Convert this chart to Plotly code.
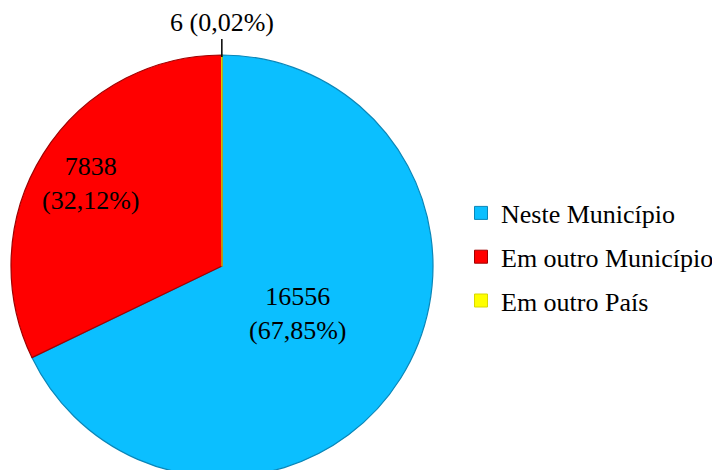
import math
import plotly.graph_objects as go

labels = ["Neste Município", "Em outro Município", "Em outro País"]
values = [16556, 7838, 6]
pct_text = ["67,85%", "32,12%", "0,02%"]
colors = ["#0BBFFF", "#FF0000", "#FFFF00"]
edge_colors = ["#0A86B8", "#A00000", "#D8D800"]

FONT = "Liberation Serif"
W, H = 720, 470
cx, cy, r = 214, 258, 211  # pie geometry in figure pixels

fig = go.Figure()
fig.add_trace(go.Pie(
    labels=labels,
    values=values,
    textinfo="none",
    sort=False,
    direction="clockwise",
    rotation=0,
    showlegend=False,
    marker=dict(colors=colors, line=dict(color=edge_colors, width=1.2)),
    domain=dict(x=[(cx - r) / W, (cx + r) / W], y=[(H - cy - r) / H, (H - cy + r) / H]),
    hoverinfo="label+value+percent",
))

# legend entries
for lab, col, ec in zip(labels, colors, edge_colors):
    fig.add_trace(go.Scatter(
        x=[None], y=[None], mode="markers", name=lab, legendgroup=lab,
        marker=dict(symbol="square", size=13, color=col, line=dict(color=ec, width=1)),
        hoverinfo="skip",
    ))

# data labels positioned along slice bisectors (computed from values)
total = sum(values)
radial_frac = [0.42, 0.735]
start = 0.0
mids = []
for v in values:
    frac = v / total
    mids.append(start + frac / 2)
    start += frac

for i in range(2):
    ang = mids[i] * 2 * math.pi
    px = cx + radial_frac[i] * r * math.sin(ang)
    py = cy - radial_frac[i] * r * math.cos(ang)
    fig.add_annotation(
        x=px / W, y=1 - py / H, xref="paper", yref="paper",
        text=f"{values[i]}<br>({pct_text[i]})", showarrow=False,
        xanchor="center", yanchor="middle",
        font=dict(family=FONT, size=26, color="black"),
    )

# small slice: label outside with leader line
ang = mids[2] * 2 * math.pi
tipx = cx + (r - 2) * math.sin(ang)
tipy = cy - (r - 2) * math.cos(ang)
fig.add_annotation(
    x=tipx / W, y=1 - tipy / H, xref="paper", yref="paper",
    text=f"{values[2]} ({pct_text[2]})",
    showarrow=True, arrowhead=0, arrowwidth=1.5, arrowcolor="black",
    ax=0, ay=-18, yanchor="bottom",
    font=dict(family=FONT, size=26, color="black"),
)

fig.update_layout(
    width=W, height=H,
    font=dict(family=FONT, size=26, color="black"),
    margin=dict(l=0, r=0, t=0, b=0),
    paper_bgcolor="white",
    plot_bgcolor="white",
    xaxis=dict(visible=False),
    yaxis=dict(visible=False),
    showlegend=True,
    legend=dict(x=453 / W, y=1 - 249 / H, xanchor="left", yanchor="middle",
                font=dict(family=FONT, size=26, color="black"),
                tracegroupgap=7, bgcolor="rgba(0,0,0,0)"),
)

fig.write_html("out.html")
